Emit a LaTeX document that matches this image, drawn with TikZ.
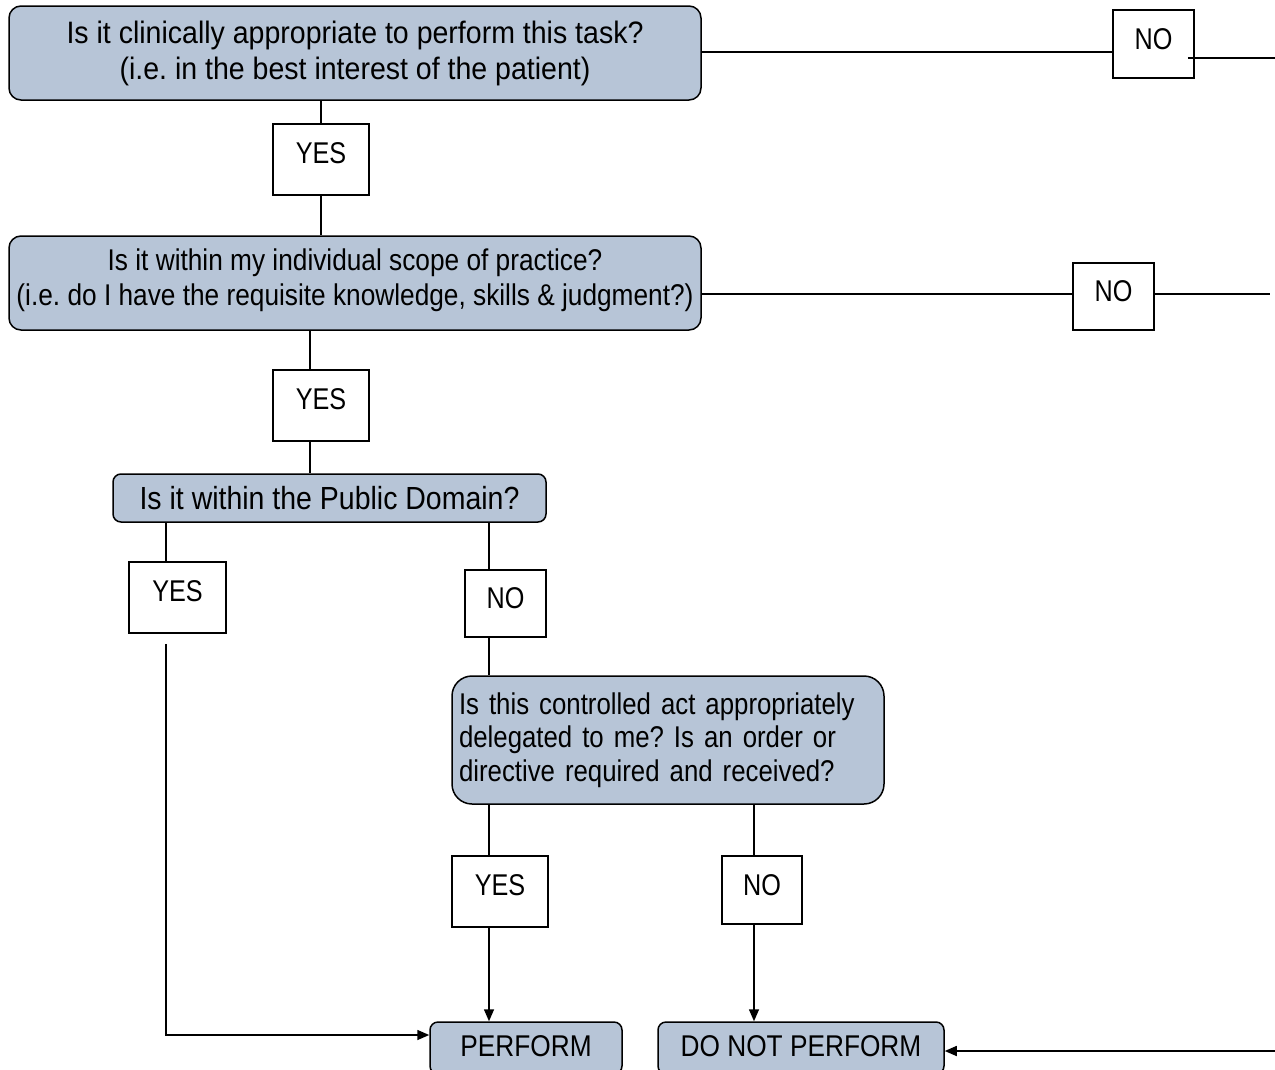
\documentclass[tikz,border=0pt]{standalone}
\usepackage{fontspec}
\setmainfont{Liberation Sans}[FakeStretch=0.84]
\newfontfamily\fA{Liberation Sans}[FakeStretch=0.92]
\newfontfamily\fB{Liberation Sans}[FakeStretch=0.875]
\newfontfamily\fC{Liberation Sans}[FakeStretch=0.89]
\newfontfamily\fD{Liberation Sans}[FakeStretch=0.86,WordSpace=0.8]
\usetikzlibrary{arrows.meta,calc}
\definecolor{boxfill}{RGB}{183,197,215}
\begin{document}
\frenchspacing
\begin{tikzpicture}[x=1pt,y=-1pt,
  font=\fontsize{30}{36}\selectfont,
  q/.style={draw, line width=1.5pt, fill=boxfill, rounded corners=12pt, align=center, inner sep=0pt},
  lab/.style={draw, line width=1.5pt, fill=white, inner sep=0pt, text height=21pt, text depth=14pt},
  labno/.style={lab, text depth=11pt},
  ln/.style={line width=1.5pt},
  arr/.style={line width=1.5pt, -{Triangle[length=12pt,width=10pt]}}]
\useasboundingbox (0,0) rectangle (1275,1069);
% question boxes
\node[q, minimum width=692, minimum height=94, font=\fA\fontsize{31}{36}\selectfont] (b1) at (355,53)
  {Is it clinically appropriate to perform this task?\\(i.e. in the best interest of the patient)};
\node[q, minimum width=692, minimum height=94, text depth=12pt, font=\fB\fontsize{30}{35}\selectfont] (b2) at (355,283)
  {Is it within my individual scope of practice?\\(i.e. do I have the requisite knowledge, skills \& judgment?)};
\node[q, minimum width=433, minimum height=48, rounded corners=8pt, font=\fC\fontsize{32}{36}\selectfont] (b3) at (329.5,498)
  {Is it within the Public Domain?};
\node[q, minimum width=432, minimum height=128, rounded corners=20pt, align=left, text width=418pt, inner xsep=7pt, font=\fD\fontsize{30}{33.5}\selectfont] (b4) at (668,740)
  {Is this controlled act appropriately\\delegated to me? Is an order or\\directive required and received?};
\node[q, minimum width=192, minimum height=52, rounded corners=8pt, text depth=4pt, font=\fB\fontsize{30}{36}\selectfont] (perf) at (526,1048) {PERFORM};
\node[q, minimum width=286, minimum height=52, rounded corners=8pt, text depth=4pt, font=\fB\fontsize{30}{36}\selectfont] (dnp) at (801,1048) {DO NOT PERFORM};
% label boxes
\node[labno, minimum width=81, minimum height=68] (no1) at (1153.5,44) {NO};
\node[lab, minimum width=96, minimum height=71] (y1) at (321,159.5) {YES};
\node[labno, minimum width=81, minimum height=67] (no2) at (1113.5,296.5) {NO};
\node[lab, minimum width=96, minimum height=71] (y2) at (321,405.5) {YES};
\node[lab, minimum width=97, minimum height=71] (y3) at (177.5,597.5) {YES};
\node[labno, minimum width=81, minimum height=67] (no3) at (505.5,603.5) {NO};
\node[lab, minimum width=96, minimum height=71] (y4) at (500,891.5) {YES};
\node[labno, minimum width=80, minimum height=68] (no4) at (762,890) {NO};
% lanes and free ends
\coordinate (L2) at (310,0);
\coordinate (L3) at (166,0);
\coordinate (L4) at (489,0);
\coordinate (L5) at (754,0);
\coordinate (r1) at (1275,58);
\coordinate (r2) at (1270,294);
\coordinate (r3) at (1275,1051);
% connectors
\draw[ln] ($(b1.east)+(0,-1)$) -- ($(b1.east -| no1.west)+(0,-1)$);
\draw[ln] ($(no1.east |- r1)+(-7,0)$) -- (r1);
\draw[ln] (b1.south -| y1) -- (y1.north);
\draw[ln] (y1.south) -- (y1.south |- b2.north);
\draw[ln] (b2.east |- r2) -- (no2.west |- r2);
\draw[ln] (no2.east |- r2) -- (r2);
\draw[ln] (b2.south -| L2) -- (y2.north -| L2);
\draw[ln] (y2.south -| L2) -- (b3.north -| L2);
\draw[ln] (b3.south -| L3) -- (y3.north -| L3);
\draw[arr] ($(y3.south -| L3)+(0,10)$) |- ($(perf.west)+(0,-13)$);
\draw[ln] (b3.south -| L4) -- (no3.north -| L4);
\draw[ln] (no3.south -| L4) -- (b4.north -| L4);
\draw[ln] (b4.south -| L4) -- (y4.north -| L4);
\draw[arr] (y4.south -| L4) -- (perf.north -| L4);
\draw[ln] (b4.south -| L5) -- (no4.north -| L5);
\draw[arr] (no4.south -| L5) -- (dnp.north -| L5);
\draw[arr] (r3) -- (dnp.east |- r3);
\end{tikzpicture}
\end{document}
